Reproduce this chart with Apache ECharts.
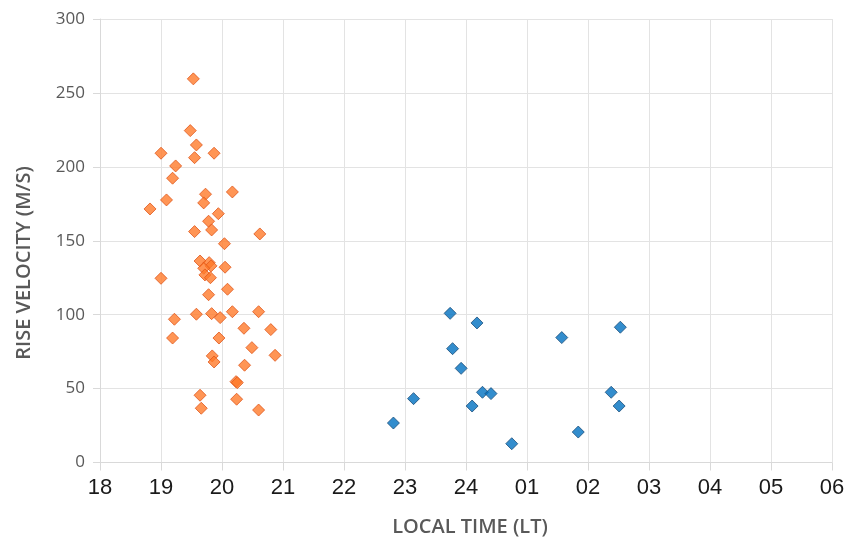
<!DOCTYPE html>
<html><head><meta charset="utf-8">
<script src="https://cdn.jsdelivr.net/npm/echarts@6/dist/echarts.min.js"></script>
<style>html,body{margin:0;padding:0;background:#fff}#c{width:849px;height:539px}</style>
</head><body><div id="c"></div>
<script>
// Evening group (orange): [local hour, rise velocity m/s]
const eveningTimes = [19.53,19.48,19.58,19.00,19.55,19.87,19.24,19.19,19.73,20.17,19.09,19.70,18.82,19.94,19.78,19.55,19.83,20.62,20.04,
  19.64,19.79,19.82,19.70,20.05,19.72,19.81,19.00,20.09,19.78,19.58,19.83,20.17,20.60,19.97,19.22,20.36,20.80,19.19,19.95,20.49,20.87,19.84,19.87,20.37,20.23,20.25,19.64,20.24,19.66,20.60];
const eveningVel = [259.5,224.5,214.8,209.2,206.2,209.2,200.6,192.3,181.5,183.0,177.6,175.6,171.5,168.3,163.2,156.2,157.3,154.6,148.0,
  136.3,135.2,133.0,131.4,132.1,126.9,125.0,124.6,117.2,113.5,100.3,100.7,102.0,102.0,98.0,96.9,90.8,89.9,84.2,84.2,77.7,72.5,72.1,68.0,65.8,54.7,54.0,45.5,42.8,36.7,35.5];
// Night group (blue)
const nightTimes = [23.74,24.18,26.53,25.57,23.78,23.92,24.27,24.41,26.38,23.14,24.10,26.51,22.81,25.84,24.75];
const nightVel = [100.9,94.4,91.5,84.5,77.0,63.7,47.5,46.6,47.5,43.2,38.2,38.2,26.7,20.6,12.7];
const xTickLabels = ['18','19','20','21','22','23','24','01','02','03','04','05','06'];
const xTitle = 'LOCAL TIME (LT)';
const yTitle = 'RISE VELOCITY (M/S)';

const toPairs = (xs, ys) => xs.map((x, i) => [x, ys[i]]);
const chart = echarts.init(document.getElementById('c'), null, {renderer: 'canvas'});
const titleFont = '600 20px "Open Sans", sans-serif';
chart.setOption({
  animation: false,
  grid: {left: 100, right: 17, top: 19, bottom: 76.5},
  xAxis: {
    type: 'value', min: 18, max: 30, interval: 1,
    axisLine: {show: true, lineStyle: {color: '#d9d9d9'}},
    axisTick: {show: true, length: 8, lineStyle: {color: '#d9d9d9'}},
    splitLine: {show: true, lineStyle: {color: '#e3e3e3'}},
    axisLabel: {
      margin: 14, color: '#1a1a1a', fontSize: 22, fontFamily: '"Liberation Sans", Arial, sans-serif',
      formatter: v => xTickLabels[Math.round(v - 18)]
    }
  },
  yAxis: {
    type: 'value', min: 0, max: 300, interval: 50,
    axisLine: {show: true, lineStyle: {color: '#d9d9d9'}},
    axisTick: {show: true, length: 7, lineStyle: {color: '#d9d9d9'}},
    splitLine: {show: true, lineStyle: {color: '#e3e3e3'}},
    axisLabel: {margin: 15, color: '#595959', fontSize: 17, fontFamily: '"Open Sans", sans-serif'}
  },
  graphic: [
    {type: 'text', x: 470, y: 527, style: {text: xTitle, fill: '#595959', font: titleFont, align: 'center', verticalAlign: 'middle'}},
    {type: 'text', x: 24, y: 263, rotation: Math.PI / 2, style: {text: yTitle, fill: '#595959', font: titleFont, align: 'center', verticalAlign: 'middle'}}
  ],
  series: [
    {type: 'scatter', symbol: 'diamond', symbolSize: 12, data: toPairs(eveningTimes, eveningVel),
      itemStyle: {color: '#FF7A2A', borderColor: '#E0561A', borderWidth: 1}},
    {type: 'scatter', symbol: 'diamond', symbolSize: 12, data: toPairs(nightTimes, nightVel),
      itemStyle: {color: '#0070C0', borderColor: '#1B4F7A', borderWidth: 1}}
  ]
});
</script></body></html>
